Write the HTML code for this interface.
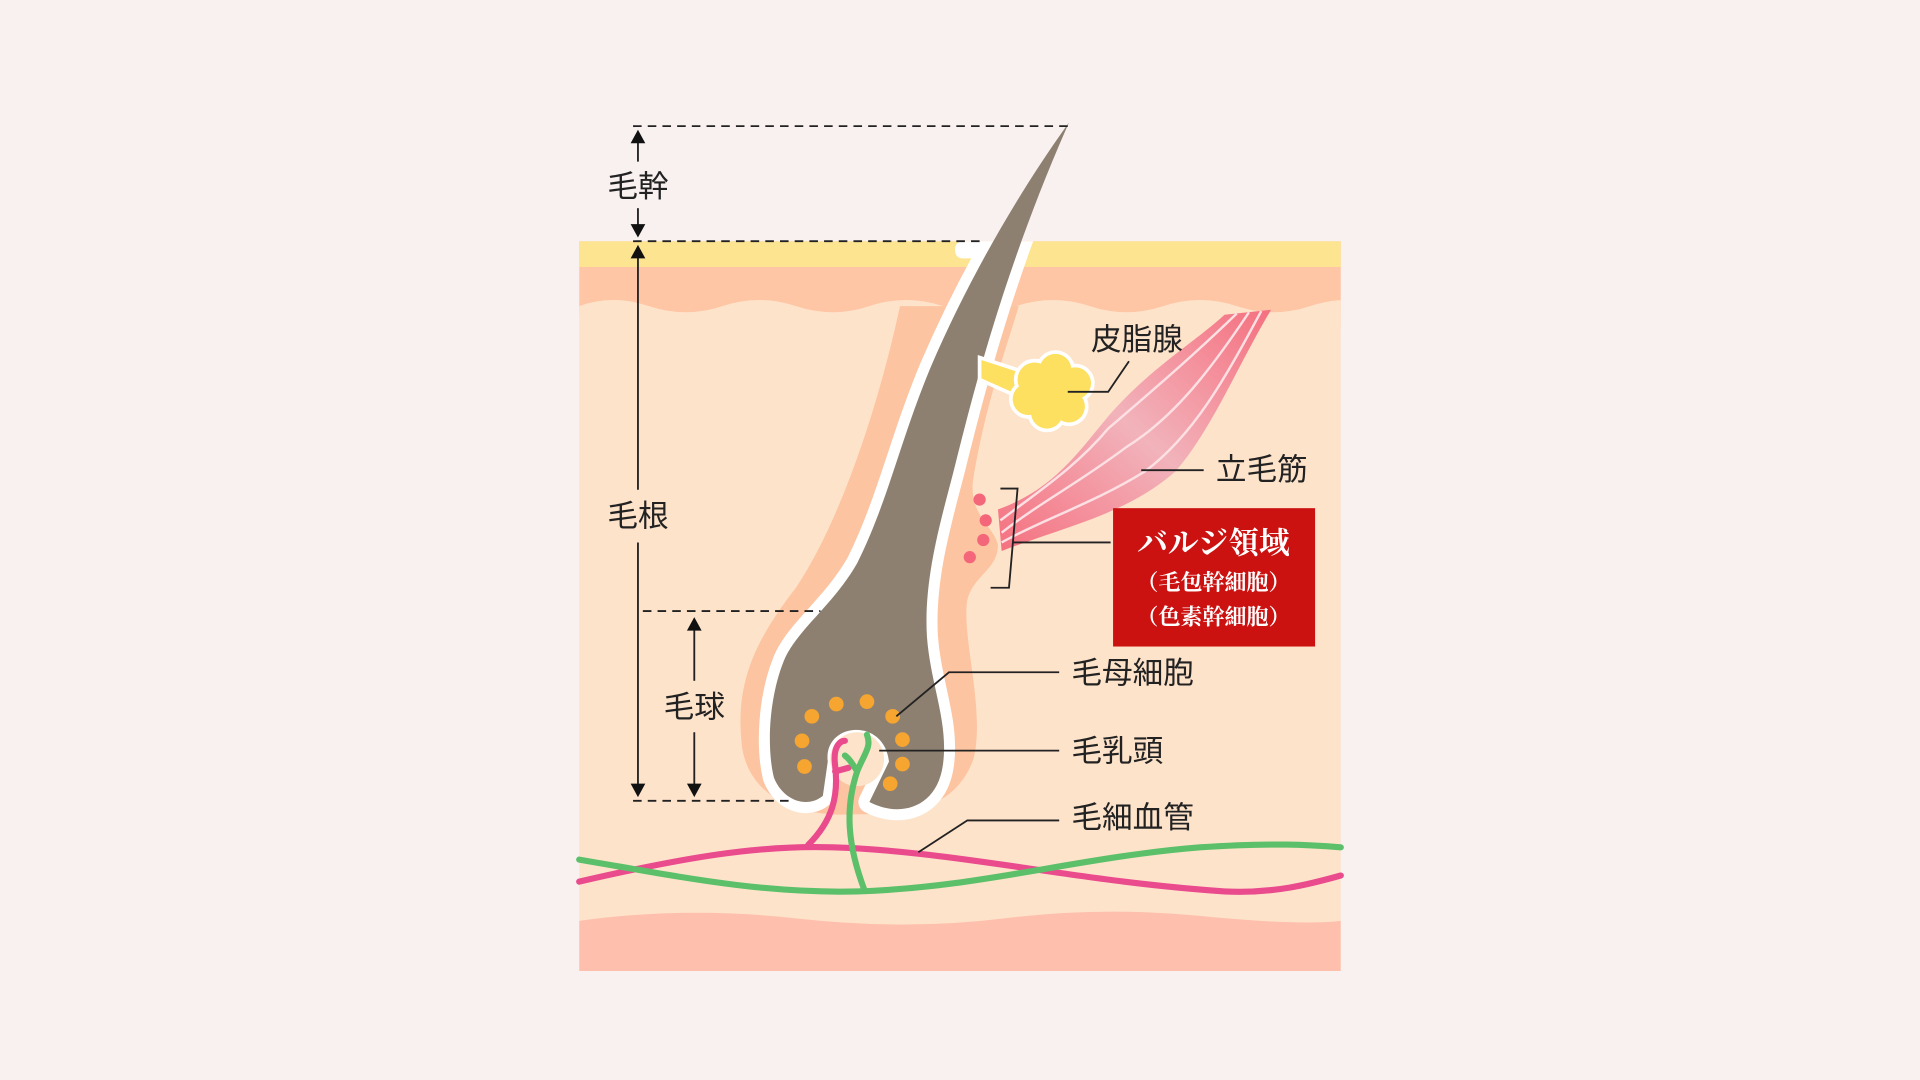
<!DOCTYPE html>
<html><head><meta charset="utf-8"><style>
html,body{margin:0;padding:0;background:#f8f1f0;}
svg{display:block}
.t{font-family:"Liberation Sans","Noto Sans CJK JP",sans-serif;font-size:25px;fill:#222;}
.w{font-family:"Liberation Serif","Noto Serif CJK SC",serif;fill:#fff;font-weight:bold;}
</style></head><body>
<svg width="1920" height="1080" viewBox="0 0 1568 882" xmlns="http://www.w3.org/2000/svg">
<defs>
<clipPath id="skin"><rect x="473" y="197" width="622" height="596"/></clipPath>
<linearGradient id="mg" x1="0" y1="1" x2="1" y2="0">
<stop offset="0" stop-color="#f5707f"/><stop offset="0.5" stop-color="#f2b3bb"/><stop offset="1" stop-color="#f5707f"/>
</linearGradient>
</defs>
<rect width="1568" height="882" fill="#f8f1f0"/>
<g clip-path="url(#skin)">
<rect x="473" y="197" width="622" height="596" fill="#fee3cb"/>
<rect x="473" y="197" width="622" height="60" fill="#fec6a5"/>
<path d="M473,250 Q500,240 530,250 T590,250 T650,250 T710,250 T770,250 T830,250 T890,250 T950,250 T1010,250 T1070,250 T1130,250 L1130,270 L473,270Z" fill="#fee3cb"/>
<rect x="473" y="197" width="622" height="21" fill="#fde490"/>
<path d="M473,752 Q560,740 650,750 T820,750 T980,748 T1095,752 L1095,793 L473,793Z" fill="#fec0ad"/>
<path d="M735,250 C720,320 690,420 650,480 C615,525 600,560 606,610 C612,650 650,668 700,665 C745,665 780,660 795,620 C805,580 785,520 790,490 C795,470 815,465 815,445 C812,430 790,420 795,390 C805,330 820,290 832,250 Z" fill="#fcc4a0"/>
<path d="M873,100 C830,160 790,230 760,300 C735,360 725,410 700,460 C680,495 650,515 640,540 C628,570 626,610 632,635 C640,655 660,660 672,650 L676,622 C672,590 722,585 726,622 L710,655 C735,668 765,660 770,625 C775,590 760,560 757,520 C754,470 770,420 780,380 C795,320 820,220 873,100 Z" fill="none" stroke="#fff" stroke-width="18" stroke-linejoin="round"/>
<rect x="780" y="197" width="52" height="14" rx="6" fill="#fff"/>
</g>
<path d="M873,100 C830,160 790,230 760,300 C735,360 725,410 700,460 C680,495 650,515 640,540 C628,570 626,610 632,635 C640,655 660,660 672,650 L676,622 C672,590 722,585 726,622 L710,655 C735,668 765,660 770,625 C775,590 760,560 757,520 C754,470 770,420 780,380 C795,320 820,220 873,100 Z" fill="#8e8070"/>
<circle cx="700" cy="620" r="22" fill="#fee3cb"/>
<path d="M800,292 L840,305 L845,330 L800,310 Z" fill="#fde060" stroke="#fff" stroke-width="3"/>
<g fill="#fde060" stroke="#fff" stroke-width="6">
<circle cx="845" cy="310" r="14"/><circle cx="862" cy="302" r="13"/><circle cx="878" cy="313" r="13"/><circle cx="873" cy="332" r="13"/><circle cx="855" cy="337" r="13"/><circle cx="840" cy="326" r="13"/>
</g>
<g fill="#fde060"><circle cx="845" cy="310" r="14"/><circle cx="862" cy="302" r="13"/><circle cx="878" cy="313" r="13"/><circle cx="873" cy="332" r="13"/><circle cx="855" cy="337" r="13"/><circle cx="840" cy="326" r="13"/><circle cx="860" cy="320" r="16"/></g>
<path d="M1000,257 L1038,253 C1010,300 990,350 960,385 C920,420 870,430 818,450 L815,416 C860,400 880,370 905,340 C940,300 975,280 1000,257 Z" fill="url(#mg)"/>
<g fill="none" stroke="#fde0e3" stroke-width="2">
<path d="M1010,256 C975,290 940,320 905,350 C880,380 850,400 817,425"/>
<path d="M1020,255 C990,300 960,340 920,365 C880,395 850,410 818,435"/>
<path d="M1030,254 C1000,310 975,355 935,385 C895,410 850,425 818,443"/>
</g>
<g fill="#f4677a"><circle cx="800" cy="408" r="5"/><circle cx="805" cy="425" r="5"/><circle cx="803" cy="441" r="5"/><circle cx="792" cy="455" r="5"/></g>
<g fill="#f6a531"><circle cx="663" cy="585" r="6"/><circle cx="683" cy="575" r="6"/><circle cx="708" cy="573" r="6"/><circle cx="729" cy="585" r="6"/><circle cx="655" cy="605" r="6"/><circle cx="657" cy="626" r="6"/><circle cx="737" cy="604" r="6"/><circle cx="737" cy="624" r="6"/><circle cx="727" cy="640" r="6"/></g>
<g fill="none" stroke-width="5" stroke-linecap="round">
<path d="M473,720 C560,700 620,690 680,692 C780,695 880,720 1000,728 C1040,730 1070,722 1095,715" stroke="#e94b8d"/>
<path d="M660,690 C680,670 685,650 682,625 C680,610 686,605 690,605 M682,630 L693,627" stroke="#e94b8d"/>
<path d="M473,702 C550,715 620,730 700,728 C800,725 880,700 980,692 C1040,688 1070,690 1095,692" stroke="#5cc06a"/>
<path d="M706,727 C692,690 690,660 700,630 C706,615 712,610 708,600 M700,630 C697,625 694,620 690,617" stroke="#5cc06a"/>
</g>
<g stroke="#222" stroke-width="1.5" stroke-dasharray="7,5" fill="none">
<line x1="517" y1="103" x2="873" y2="103"/>
<line x1="517" y1="197" x2="800" y2="197"/>
<line x1="525" y1="499" x2="670" y2="499"/>
<line x1="517" y1="654" x2="645" y2="654"/>
</g>
<g stroke="#222" stroke-width="1.5" fill="none">
<line x1="521" y1="112" x2="521" y2="132"/><line x1="521" y1="170" x2="521" y2="188"/>
<line x1="521" y1="207" x2="521" y2="400"/><line x1="521" y1="443" x2="521" y2="643"/>
<line x1="567" y1="512" x2="567" y2="556"/><line x1="567" y1="598" x2="567" y2="643"/>
<polyline points="872,320 905,320 922,295"/>
<line x1="932" y1="384" x2="983" y2="384"/>
<polyline points="817,399 831,399 824,480 809,480"/>
<line x1="827" y1="443" x2="907" y2="443"/>
<polyline points="732,585 775,549 865,549"/>
<line x1="718" y1="613" x2="865" y2="613"/>
<polyline points="750,696 790,670 865,670"/>
</g>
<g fill="#111">
<path d="M521,106 l-6,11 h12z"/><path d="M521,194 l-6,-11 h12z"/>
<path d="M521,200 l-6,11 h12z"/><path d="M521,651 l-6,-11 h12z"/>
<path d="M567,504 l-6,11 h12z"/><path d="M567,651 l-6,-11 h12z"/>
</g>
<g class="t" text-anchor="middle">
<text x="521" y="161">毛幹</text>
<text x="521" y="430">毛根</text>
<text x="567" y="586">毛球</text>
</g>
<g class="t">
<text x="891" y="286">皮脂腺</text>
<text x="993" y="392">立毛筋</text>
<text x="875" y="558">毛母細胞</text>
<text x="875" y="622">毛乳頭</text>
<text x="875" y="676">毛細血管</text>
</g>
<rect x="909" y="415" width="165" height="113" fill="#cc1111"/>
<g class="w" text-anchor="middle">
<text x="991" y="452" font-size="25">バルジ領域</text>
<text x="991" y="482" font-size="18">（毛包幹細胞）</text>
<text x="991" y="510" font-size="18">（色素幹細胞）</text>
</g>
</svg>
</body></html>
